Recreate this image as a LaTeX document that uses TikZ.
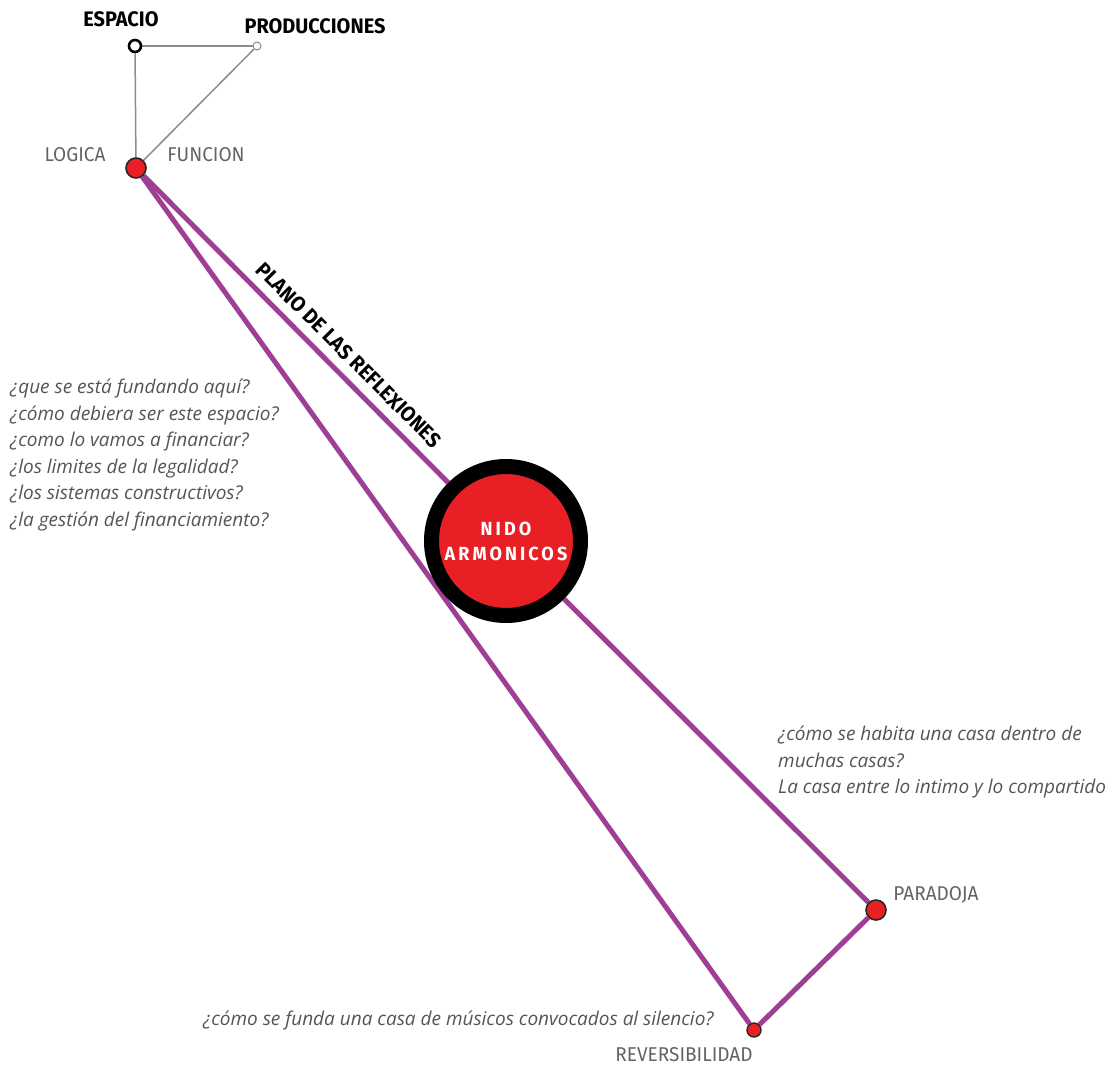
\documentclass[tikz,border=0pt]{standalone}
\usepackage{fontspec}
\usetikzlibrary{backgrounds}
\newfontfamily\labelfont[FakeStretch=0.95]{Fira Sans}
\newfontfamily\askfont[FakeStretch=1.0]{Open Sans}
\definecolor{planocol}{RGB}{158,62,148}
\definecolor{nidocol}{RGB}{232,32,38}
\definecolor{labelcol}{RGB}{100,100,100}
\definecolor{askcol}{RGB}{85,85,85}
\definecolor{guiacol}{RGB}{140,140,140}

\tikzset{
	planoline/.style={draw=planocol, line width=5pt},
	guialine/.style={draw=guiacol, line width=1.5pt},
	punto/.style={circle, fill=nidocol, draw=black!85, line width=1.6pt, minimum size=20pt, inner sep=0pt},
	vacio/.style={circle, fill=white, draw=black, line width=2.6pt, minimum size=12pt, inner sep=0pt},
	vaciochico/.style={circle, fill=white, draw=guiacol, line width=1pt, minimum size=8pt, inner sep=0pt},
	nidocirc/.style={circle, fill=nidocol, draw=black, line width=15pt, minimum size=149pt, inner sep=0pt,
		text=white, align=center, font=\labelfont\bfseries\fontsize{19}{25}\selectfont\addfontfeature{LetterSpace=16}},
	etiqueta/.style={inner sep=0pt, text=labelcol, font=\labelfont\fontsize{20}{22}\selectfont},
	titulo/.style={inner sep=0pt, text=black, font=\labelfont\bfseries\fontsize{21}{22}\selectfont},
	pregunta/.style={inner sep=0pt, text=askcol, align=left, font=\askfont\itshape\fontsize{19}{26.5}\selectfont}
}

\begin{document}
\begin{tikzpicture}[x=1pt, y=-1pt]
		\useasboundingbox (0,0) rectangle (1107,1065);
		\node[vacio] (espacio) at (135,46) {};
		\node[vaciochico] (producciones) at (257,46) {};
		\node[punto] (logica) at (136,168) {};
		\node[nidocirc] (nido) at (506,541) {NIDO\\ARMONICOS};
		\node[punto] (paradoja) at (876,910) {};
		\node[punto, minimum size=14pt, line width=1.4pt] (reversibilidad) at (754,1030) {};
		\begin{pgfonlayer}{background}
			\fill[white] (0,0) rectangle (1107,1065);
			\draw[guialine] (espacio) to (producciones);
			\draw[guialine] (espacio) to (logica);
			\draw[guialine] (producciones) to (logica);
			\draw[planoline] (logica) to (nido);
			\draw[planoline] (nido) to (paradoja);
			\draw[planoline] (logica) to (reversibilidad);
			\draw[planoline] (paradoja) to (reversibilidad);
		\end{pgfonlayer}
		\node[titulo] (tespacio) at (121,19) {ESPACIO};
		\node[titulo] (tproducciones) at (315,26) {PRODUCCIONES};
		\node[etiqueta] (tlogica) at (75,155) {LOGICA};
		\node[etiqueta] (tfuncion) at (206,155) {FUNCION};
		\node[titulo, rotate=-45] (tplano) at (349,355) {PLANO DE LAS REFLEXIONES};
		\node[etiqueta] (tparadoja) at (936,895) {PARADOJA};
		\node[etiqueta] (treversibilidad) at (684,1055) {REVERSIBILIDAD};
		\node[pregunta, anchor=west] (qizq) at (10,455) {¿que se está fundando aquí?\\¿cómo debiera ser este espacio?\\¿como lo vamos a financiar?\\¿los limites de la legalidad?\\¿los sistemas constructivos?\\¿la gestión del financiamiento?};
		\node[pregunta, anchor=west] (qder) at (778,762) {¿cómo se habita una casa dentro de\\muchas casas?\\La casa entre lo intimo y lo compartido};
		\node[pregunta, anchor=west] (qabajo) at (203,1020) {¿cómo se funda una casa de músicos convocados al silencio?};
	\end{tikzpicture}
\end{document}
